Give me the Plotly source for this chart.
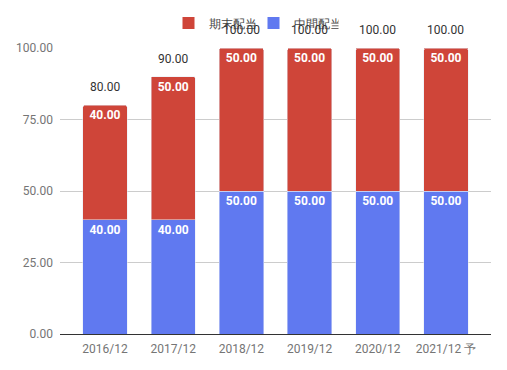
import plotly.graph_objects as go

categories = ["2016/12", "2017/12", "2018/12", "2019/12", "2020/12", "2021/12 予"]
interim = [40, 40, 50, 50, 50, 50]      # 中間配当
year_end = [40, 50, 50, 50, 50, 50]     # 期末配当
totals = [a + b for a, b in zip(interim, year_end)]
y_ticks = [0, 25, 50, 75, 100]

RED = "#cf4539"
BLUE = "#6079f0"
FONT = "Roboto"

fig = go.Figure()
fig.add_trace(go.Bar(
    x=categories, y=interim, name="中間配当", marker_color=BLUE,
    text=[f"{v:.2f}" for v in interim], textposition="inside",
    insidetextanchor="end", textangle=0, showlegend=False,
    textfont=dict(family=FONT, size=12, color="white", weight="bold"),
))
fig.add_trace(go.Bar(
    x=categories, y=year_end, name="期末配当", marker_color=RED,
    text=[f"{v:.2f}" for v in year_end], textposition="inside",
    insidetextanchor="end", textangle=0, showlegend=False,
    textfont=dict(family=FONT, size=12, color="white", weight="bold"),
))
# legend entries with square swatches
for name, col in [("期末配当", RED), ("中間配当", BLUE)]:
    fig.add_trace(go.Scatter(x=[None], y=[None], mode="markers", name=name,
                             marker=dict(symbol="square", size=12, color=col)))

for c, t in zip(categories, totals):
    fig.add_annotation(x=c, y=t, text=f"{t:.2f}", showarrow=False,
                       yshift=18, font=dict(family=FONT, size=12, color="#333333"))

fig.update_layout(
    width=507, height=370,
    barmode="stack", bargap=0.35, barcornerradius=2,
    margin=dict(l=60, r=16, t=48, b=36, autoexpand=False),
    plot_bgcolor="white", paper_bgcolor="white",
    font=dict(family=FONT, size=12, color="#757575"),
    legend=dict(orientation="h", xref="container", yref="container",
                x=0.5, xanchor="center", y=0.938, yanchor="middle",
                traceorder="normal", itemsizing="constant",
                entrywidth=40, entrywidthmode="pixels",
                font=dict(family=FONT, size=12, color="#444444"),
                itemwidth=30, bgcolor="rgba(0,0,0,0)"),
    showlegend=True,
)
fig.update_xaxes(showline=True, linecolor="#333333", linewidth=1,
                 range=[-0.66, 5.66], ticks="", ticklabelstandoff=4,
                 tickfont=dict(family=FONT, size=12, color="#757575"))
fig.update_yaxes(range=[0, 100], tickvals=y_ticks, tickformat=".2f",
                 showgrid=True, gridcolor="#cccccc", zeroline=False,
                 ticklabelstandoff=6,
                 tickfont=dict(family=FONT, size=12, color="#757575"))

fig.write_html("out.html", config={"displayModeBar": False},
               post_script="document.body.style.margin='0';document.body.style.padding='0';")
